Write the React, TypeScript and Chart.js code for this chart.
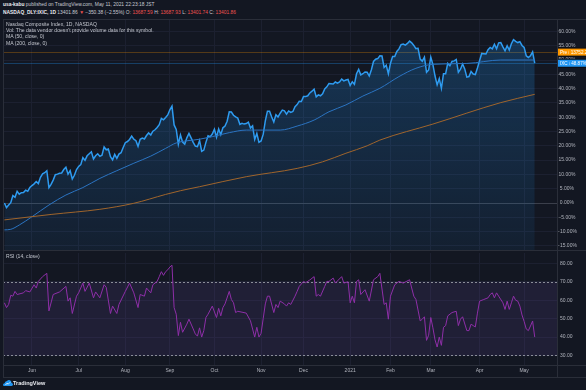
import React, { useEffect, useRef } from "react";
import { Chart, registerables } from "chart.js";

Chart.register(...registerables);

// ---- data (percent change from first visible bar, daily, 12 May 2020 .. 10 May 2021) ----
const closePct = [
  0.0, -1.6, -0.7, 0.1, 2.6, 2.0, 4.1, 3.1, 3.6, 3.7, 4.5, 4.1, 5.4,
  6.1, 6.7, 7.5, 6.8, 9.0, 10.2, 10.6, 11.3, 5.4, 6.5, 8.0, 9.9, 10.1, 10.4, 10.5,
  11.7, 12.5, 10.1, 11.3, 8.4, 9.7, 11.7,
  12.8, 13.4, 15.9, 14.9, 16.5, 17.2, 17.9, 15.4, 16.5, 17.2, 16.3, 16.7,
  19.6, 18.6, 18.9, 16.2, 15.1, 17.0, 15.6, 17.1, 17.6, 19.4,
  21.1, 21.5, 22.2, 23.4, 22.3, 21.8, 19.8, 22.3, 22.7, 22.4, 23.6, 24.5, 23.8,
  25.1, 25.6, 26.4, 27.4, 29.6, 29.1, 29.9, 30.8,
  32.6, 33.9, 27.3, 25.7, 20.5, 23.8, 21.3, 20.6, 22.8, 24.3, 22.8, 21.2, 19.9,
  19.7, 21.8, 18.1, 18.5, 21.2, 23.5, 23.2, 24.1,
  25.8, 23.0, 25.9, 23.9, 26.3, 26.9, 28.6, 31.9, 31.8, 30.7, 30.1, 29.7,
  27.5, 27.9, 27.6, 27.8, 28.3, 26.2, 27.0, 22.2, 24.3, 21.2,
  21.7, 24.0, 28.7, 32.1, 32.1, 30.1, 28.3, 30.9, 30.1, 31.4, 32.5, 32.2, 31.1,
  32.2, 31.7, 32.0, 33.7, 34.4, 35.6, 35.5,
  37.2, 37.2, 37.5, 38.5, 39.1, 39.8, 37.1, 37.8, 37.5, 38.2, 39.9, 40.6, 41.8,
  41.7, 41.6, 42.3, 41.9, 42.3, 43.3, 42.7, 43.0, 43.2,
  41.1, 42.4, 41.5, 45.2, 46.7, 44.8, 45.2, 45.8, 45.7, 44.4, 46.6, 49.5, 50.3,
  50.5, 51.5, 51.4, 47.4, 48.2, 45.2,
  48.9, 51.2, 51.2, 53.0, 53.9, 55.4, 55.6, 55.2, 55.8, 56.6, 56.0, 55.1, 54.0,
  54.1, 50.3, 49.6, 51.0, 45.7, 46.5,
  51.0, 48.4, 44.4, 41.3, 43.5, 40.1, 45.2, 45.2, 48.8, 48.0, 49.5, 49.7, 50.2,
  45.7, 46.8, 48.6, 46.9, 44.0, 44.2, 46.0, 45.1, 44.9, 47.2,
  49.8, 52.3, 52.2, 52.1, 53.6, 54.4, 53.9, 55.5, 53.9, 56.0, 56.1, 54.6, 53.2,
  55.0, 53.5, 55.7, 57.1, 56.5, 56.1, 56.4, 55.1,
  54.4, 51.5, 50.9, 51.5, 52.8, 48.9,
];

// moving averages (bar index -> percent)
const ma50Idx = [0, 3, 7, 13, 21, 29, 37, 45, 53, 61, 69, 76, 81, 92, 98, 106, 114, 130, 138, 146, 153, 161, 169, 177, 186, 194, 202, 218, 234, 250];
const ma50Pct = [-9.4, -9.2, -7.7, -4.8, -0.7, 2.8, 5.4, 8.6, 11.3, 13.9, 16.4, 19.1, 21.0, 22.3, 23.2, 24.6, 25.5, 25.5, 26.9, 29.0, 31.9, 34.3, 37.4, 40.1, 44.2, 47.1, 48.5, 48.8, 50.0, 50.0];

const ma200Idx = [0, 22, 45, 61, 76, 83, 92, 114, 138, 150, 161, 171, 177, 202, 234, 250];
const ma200Pct = [-5.9, -4.0, -2.2, -0.1, 3.0, 4.3, 5.7, 9.2, 12.1, 14.4, 17.4, 20.0, 22.0, 27.6, 35.1, 38.0];

// RSI (14, close)
const rsiIdx = [
  0, 1, 2, 3, 4, 5, 6, 9, 10, 12, 14, 15, 16, 18, 20, 21, 23, 26, 29, 30, 31, 32, 34, 35, 37, 38, 40, 42, 43, 45,
  47, 48, 50, 51, 53, 54, 57, 59, 61, 63, 64, 66, 67, 69, 70, 72, 73, 74, 75, 76, 77, 78, 79, 80, 81, 82, 83, 84,
  86, 87, 89, 90, 91, 92, 93, 94, 95, 96, 98, 100, 101, 102, 103, 104, 106, 107, 108, 109, 110, 112, 114, 116, 118,
  119, 120, 121, 122, 123, 124, 125, 127, 128, 129, 130, 132, 133, 134, 135, 137, 138, 139, 141, 142, 144, 146, 147,
  148, 149, 151, 152, 153, 155, 156, 159, 160, 162, 163, 164, 165, 166, 167, 168, 170, 172, 174, 176, 177, 179, 180,
  181, 182, 184, 186, 188, 191, 193, 194, 196, 197, 198, 199, 200, 201, 202, 203, 204, 205, 206, 207, 208, 209, 211,
  213, 214, 215, 216, 218, 219, 220, 221, 222, 223, 224, 226, 228, 229, 230, 231, 232, 233, 235, 236, 237, 238, 239,
  240, 241, 242, 243, 244, 245, 246, 247, 248, 249, 250,
];
const rsiVal = [
  58.6, 56.0, 57.7, 62.7, 62.2, 64.8, 63.1, 64.0, 65.2, 64.5, 68.4, 66.6, 70.2, 72.8, 74.6, 54.2, 63.1, 64.5, 67.5, 59.5, 61.3, 52.8, 62.2, 64.0, 69.3, 64.8, 69.3, 61.3, 64.5, 61.3,
  68.4, 67.0, 52.8, 56.8, 52.8, 57.7, 64.8, 69.3, 64.0, 56.0, 63.1, 62.2, 66.6, 64.0, 68.4, 70.2, 72.8, 75.5, 73.5, 75.5, 76.5, 78.0, 79.0, 56.0, 52.4, 40.8, 48.0, 42.6,
  47.0, 49.7, 44.4, 41.7, 40.5, 45.0, 40.0, 43.5, 50.6, 52.4, 56.8, 50.6, 55.6, 51.5, 56.0, 58.0, 64.8, 60.4, 58.6, 53.3, 54.0, 53.5, 53.0, 48.8, 40.0,
  45.3, 40.0, 42.0, 50.0, 58.0, 62.2, 62.2, 53.3, 57.7, 56.0, 59.5, 58.0, 56.8, 58.6, 57.7, 62.2, 64.8, 67.5, 70.2, 69.5, 71.0, 72.8, 62.2,
  63.1, 62.2, 67.5, 70.2, 70.2, 72.0, 69.3, 72.8, 69.3, 70.0, 58.6, 62.2, 58.6, 70.2, 71.1, 63.1, 65.7, 59.5, 71.1, 72.8, 74.6, 57.7, 58.6,
  49.7, 62.2, 68.4, 70.2, 69.3, 71.1, 62.2, 60.4, 48.8, 49.7, 51.0, 38.2, 41.0, 50.6, 45.0, 38.5, 34.6, 40.0, 35.5, 45.3, 46.2, 51.5, 53.3,
  54.0, 46.2, 49.7, 51.0, 43.5, 43.5, 47.0, 46.2, 45.5, 53.0, 59.5, 60.4, 61.3, 63.1, 64.0, 61.3, 64.0, 62.2, 58.6, 55.0, 59.5, 55.0, 58.6,
  62.2, 60.0, 59.5, 56.8, 52.0, 48.5, 44.4, 43.5, 46.0, 48.7, 40.0,
];

const monthTickIdx = [13, 35, 57, 78, 99, 121, 141, 163, 182, 201, 224, 245];
const monthTickLabels = ["Jun", "Jul", "Aug", "Sep", "Oct", "Nov", "Dec", "2021", "Feb", "Mar", "Apr", "May"];

const pctTicks = [-15, -10, -5, 0, 5, 10, 15, 20, 25, 30, 35, 40, 45, 50, 55, 60];
const rsiTicks = [30, 40, 50, 60, 70, 80];

const prePct = 52.76;
const preLabel = "13752.24";
const lastPct = 48.87;
const rsiUpper = 70;
const rsiLower = 30;

// ---- styling ----
const BG = "#131722";
const GRID = "#1c2030";
const FRAME = "#2a2e39";
const TXT = "#b2b5be";
const FONT = "'Liberation Sans', Arial, sans-serif";
const RED = "#ef5350";

const X_MIN = -0.66;
const X_MAX = 260.5;

const fmtPct = (v: number) => (v < 0 ? "\u2212" + Math.abs(v).toFixed(2) : v.toFixed(2)) + "%";

export default function App() {
  const mainRef = useRef<HTMLCanvasElement>(null);
  const rsiRef = useRef<HTMLCanvasElement>(null);

  useEffect(() => {
    const priceData = closePct.map((v, i) => ({ x: i, y: v }));
    const ma50Data = ma50Idx.map((x, k) => ({ x, y: ma50Pct[k] }));
    const ma200Data = ma200Idx.map((x, k) => ({ x, y: ma200Pct[k] }));
    const rsiData = rsiIdx.map((x, k) => ({ x, y: rsiVal[k] }));

    const xAxisHidden: any = {
      type: "linear",
      min: X_MIN,
      max: X_MAX,
      afterBuildTicks: (s: any) => {
        s.ticks = monthTickIdx.map((v) => ({ value: v }));
      },
      afterFit: (s: any) => {
        s.height = 0;
      },
      ticks: { display: false },
      grid: { color: GRID, drawTicks: false },
      border: { display: false },
    };

    const mainGuides = {
      id: "mainGuides",
      beforeDatasetsDraw(chart: any) {
        const { ctx, chartArea, scales } = chart;
        const y = scales.y;
        ctx.save();
        const line = (v: number, color: string) => {
          const py = Math.round(y.getPixelForValue(v)) + 0.5;
          ctx.strokeStyle = color;
          ctx.lineWidth = 1;
          ctx.beginPath();
          ctx.moveTo(chartArea.left, py);
          ctx.lineTo(chartArea.right, py);
          ctx.stroke();
        };
        line(0, "#3b3f4b");
        line(prePct, "rgba(255,152,0,0.28)");
        line(lastPct, "rgba(33,150,243,0.32)");
        ctx.restore();
      },
      afterDraw(chart: any) {
        const { ctx, chartArea, scales } = chart;
        const y = scales.y;
        ctx.save();
        const box = (v: number, fill: string, text: string) => {
          const py = y.getPixelForValue(v);
          const x0 = chartArea.right + 1;
          const w = 37;
          const h = 7;
          ctx.fillStyle = "#0c0e14";
          ctx.fillRect(x0 - 1, py - h / 2 - 1, w + 2, h + 2);
          ctx.fillStyle = fill;
          ctx.fillRect(x0, py - h / 2, w, h);
          ctx.fillStyle = "#ffffff";
          ctx.font = `4.6px ${FONT}`;
          ctx.textBaseline = "middle";
          ctx.textAlign = "left";
          ctx.fillText(text, x0 + 2, py + 0.3);
        };
        box(prePct, "#ff9800", "Pre \u205D " + preLabel);
        box(lastPct, "#2196f3", "IXC \u205D " + lastPct.toFixed(2) + "%");
        ctx.restore();
      },
    };

    const main = new Chart(mainRef.current as HTMLCanvasElement, {
      type: "line",
      data: {
        datasets: [
          {
            data: ma200Data,
            borderColor: "#a0652c",
            borderWidth: 1,
            pointRadius: 0,
            cubicInterpolationMode: "monotone",
            fill: false,
          },
          {
            data: ma50Data,
            borderColor: "#2b74c2",
            borderWidth: 1,
            pointRadius: 0,
            cubicInterpolationMode: "monotone",
            fill: false,
          },
          {
            data: priceData,
            borderColor: "#2e9bf0",
            borderWidth: 1.5,
            pointRadius: 0,
            tension: 0,
            fill: "start",
            backgroundColor: (c: any) => {
              const area = c.chart.chartArea;
              if (!area) return "rgba(33,150,243,0.15)";
              const g = c.chart.ctx.createLinearGradient(0, area.top, 0, area.bottom);
              g.addColorStop(0, "rgba(33,150,243,0.26)");
              g.addColorStop(1, "rgba(33,150,243,0.07)");
              return g;
            },
          },
        ] as any,
      },
      options: {
        responsive: false,
        animation: false,
        events: [],
        layout: { padding: { left: 3, right: 0, top: 4, bottom: 4 } },
        plugins: { legend: { display: false }, tooltip: { enabled: false } },
        scales: {
          x: xAxisHidden,
          y: {
            position: "right",
            min: -16.43,
            max: 63.99,
            afterBuildTicks: (s: any) => {
              s.ticks = pctTicks.map((v) => ({ value: v }));
            },
            afterFit: (s: any) => {
              s.width = 29;
            },
            grid: { color: GRID, drawTicks: false },
            border: { display: false },
            ticks: {
              color: TXT,
              font: { size: 5, family: FONT },
              padding: 0,
              crossAlign: "center",
              autoSkip: false,
              callback: (v: any) => fmtPct(Number(v)),
            },
          },
        },
      } as any,
      plugins: [mainGuides],
    });

    const rsiBand = {
      id: "rsiBand",
      beforeDatasetsDraw(chart: any) {
        const { ctx, chartArea, scales } = chart;
        const y = scales.y;
        const top = y.getPixelForValue(rsiUpper);
        const bot = y.getPixelForValue(rsiLower);
        ctx.save();
        ctx.fillStyle = "rgba(126,87,194,0.13)";
        ctx.fillRect(chartArea.left, top, chartArea.right - chartArea.left, bot - top);
        ctx.strokeStyle = "#8a8d98";
        ctx.lineWidth = 1;
        ctx.setLineDash([2, 2]);
        [top, bot].forEach((p) => {
          const py = Math.round(p) + 0.5;
          ctx.beginPath();
          ctx.moveTo(chartArea.left, py);
          ctx.lineTo(chartArea.right, py);
          ctx.stroke();
        });
        ctx.restore();
      },
    };

    const rsi = new Chart(rsiRef.current as HTMLCanvasElement, {
      type: "line",
      data: {
        datasets: [
          {
            data: rsiData,
            borderColor: "#8e2fa8",
            borderWidth: 1,
            pointRadius: 0,
            tension: 0,
            fill: false,
          },
        ] as any,
      },
      options: {
        responsive: false,
        animation: false,
        events: [],
        layout: { padding: { left: 3, right: 0, top: 4, bottom: 0 } },
        plugins: { legend: { display: false }, tooltip: { enabled: false } },
        scales: {
          x: {
            type: "linear",
            min: X_MIN,
            max: X_MAX,
            afterBuildTicks: (s: any) => {
              s.ticks = monthTickIdx.map((v) => ({ value: v }));
            },
            afterFit: (s: any) => {
              s.height = 12;
            },
            grid: { color: GRID, drawTicks: false },
            border: { display: false },
            ticks: {
              color: TXT,
              font: { size: 5, family: FONT },
              padding: 3,
              maxRotation: 0,
              autoSkip: false,
              callback: (v: any) => {
                const k = monthTickIdx.indexOf(Number(v));
                return k >= 0 ? monthTickLabels[k] : "";
              },
            },
          },
          y: {
            position: "right",
            min: 24.83,
            max: 85.63,
            afterBuildTicks: (s: any) => {
              s.ticks = rsiTicks.map((v) => ({ value: v }));
            },
            afterFit: (s: any) => {
              s.width = 29;
            },
            grid: { color: GRID, drawTicks: false },
            border: { display: false },
            ticks: {
              color: TXT,
              font: { size: 5, family: FONT },
              padding: 3,
              crossAlign: "near",
              autoSkip: false,
              callback: (v: any) => Number(v).toFixed(2),
            },
          },
        },
      } as any,
      plugins: [rsiBand],
    });

    return () => {
      main.destroy();
      rsi.destroy();
    };
  }, []);

  const abs = (s: React.CSSProperties): React.CSSProperties => ({ position: "absolute", ...s });
  const legendStyle: React.CSSProperties = { fontSize: 5.1, lineHeight: "6px", color: "#c3c6ce", whiteSpace: "nowrap" };

  return (
    <div
      style={{
        position: "fixed",
        left: 0,
        top: 0,
        width: 586,
        height: 390,
        background: BG,
        overflow: "hidden",
        fontFamily: FONT,
        color: "#d1d4dc",
      }}
    >
      {/* header */}
      <div style={abs({ left: 3, top: 1, fontSize: 4.9, lineHeight: "8px", whiteSpace: "nowrap", color: "#c8cbd3" })}>
        <div>
          <b style={{ color: "#e8eaef" }}>usa-kabu</b> published on TradingView.com, May 11, 2021 22:23:18 JST
        </div>
        <div>
          <b style={{ color: "#e8eaef" }}>NASDAQ_DLY:IXIC, 1D</b> 13401.86 <span style={{ color: RED }}>▼</span>{" "}
          −350.38 (−2.55%) O: <span style={{ color: RED }}>13687.59</span> H:{" "}
          <span style={{ color: RED }}>13687.93</span> L: <span style={{ color: RED }}>13401.74</span> C:{" "}
          <span style={{ color: RED }}>13401.86</span>
        </div>
      </div>

      {/* charts */}
      <canvas ref={mainRef} width={586} height={238} style={abs({ left: 0, top: 16, width: 586, height: 238 })} />
      <canvas ref={rsiRef} width={586} height={130} style={abs({ left: 0, top: 247, width: 586, height: 130 })} />

      {/* frame lines */}
      <div style={abs({ left: 3, top: 19, width: 582, height: 357, border: `1px solid ${FRAME}`, pointerEvents: "none" })} />
      <div style={abs({ left: 3, top: 250, width: 583, height: 1, background: FRAME })} />
      <div style={abs({ left: 3, top: 365, width: 583, height: 1, background: FRAME })} />
      <div style={abs({ left: 557, top: 19, width: 1, height: 358, background: FRAME })} />

      {/* legend */}
      <div style={abs({ left: 6, top: 21.3, ...legendStyle })}>Nasdaq Composite Index, 1D, NASDAQ</div>
      <div style={abs({ left: 6, top: 27, ...legendStyle })}>Vol: The data vendor doesn't provide volume data for this symbol.</div>
      <div style={abs({ left: 6, top: 32.7, ...legendStyle })}>MA (50, close, 0)</div>
      <div style={abs({ left: 6, top: 40.3, ...legendStyle })}>MA (200, close, 0)</div>
      <div style={abs({ left: 6, top: 252.7, ...legendStyle })}>RSI (14, close)</div>

      {/* footer logo */}
      <svg style={abs({ left: 3, top: 379 })} width={10} height={8} viewBox="0 0 10 8">
        <path d="M1 7 Q0 7 0 5.8 Q0 4.4 1.6 4.3 Q1.8 2.2 4 2 Q5.2 0.4 7 1.2 Q8.6 2 8.4 3.8 Q10 4.2 10 5.6 Q10 7 8.6 7 Z" fill="#2196f3" />
        <path d="M2.5 6 L4 4.2 L5.2 5.2 L7.2 3.2" stroke="#ffffff" strokeWidth={0.8} fill="none" />
      </svg>
      <div style={abs({ left: 13, top: 380, fontSize: 5.5, lineHeight: "6px", fontWeight: 700, color: "#e8eaef" })}>TradingView</div>
    </div>
  );
}
